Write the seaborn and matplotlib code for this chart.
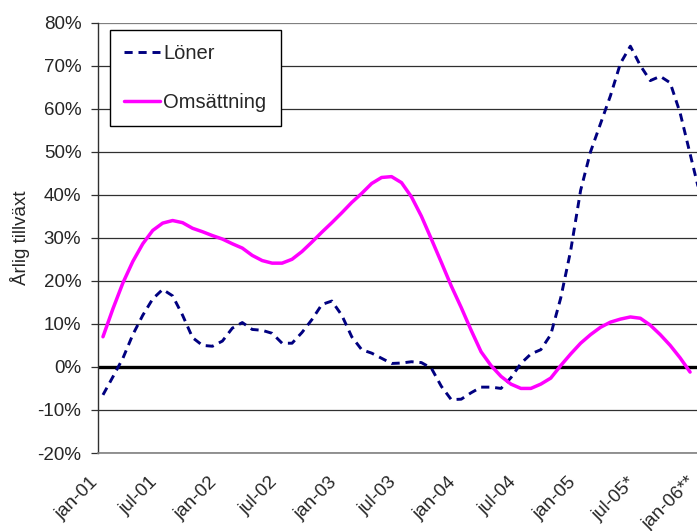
import numpy as np
import pandas as pd
import matplotlib
matplotlib.use("Agg")
import matplotlib.pyplot as plt
import matplotlib.transforms as mtrans
import seaborn as sns

# Monthly annual growth, jan-01 .. jan-06 (percent)
loner = [-6.5, -2.3, 2.0, 7.5, 12.0, 15.8, 18.0, 16.5, 12.0, 6.8,
         5.0, 4.8, 6.0, 9.0, 10.3, 8.7, 8.5, 7.8, 5.5, 5.5,
         8.0, 11.0, 14.5, 15.3, 12.0, 7.0, 4.0, 3.2, 2.0, 0.8,
         0.9, 1.2, 1.0, -0.3, -4.5, -7.6, -7.5, -6.0, -4.7, -4.7,
         -5.0, -2.5, 0.8, 3.0, 4.0, 7.5, 16.0, 27.0, 41.0, 50.0,
         56.5, 63.0, 70.5, 74.5, 70.0, 66.5, 67.5, 66.0, 59.0, 49.5,
         40.0]
omsattning = [7.0, 13.5, 19.5, 24.5, 28.6, 31.7, 33.4, 34.0, 33.5, 32.2,
              31.4, 30.5, 29.7, 28.6, 27.6, 25.9, 24.7, 24.1, 24.1, 25.0,
              26.8, 29.0, 31.3, 33.5, 35.8, 38.2, 40.3, 42.6, 44.0, 44.2,
              42.8, 39.5, 35.0, 29.7, 24.3, 18.8, 13.8, 8.5, 3.5, 0.3,
              -2.2, -4.0, -5.0, -5.0, -4.0, -2.6, 0.3, 3.0, 5.5, 7.5,
              9.2, 10.4, 11.1, 11.6, 11.3, 9.7, 7.5, 5.0, 2.1, -1.2]
tick_labels = ["jan-01", "jul-01", "jan-02", "jul-02", "jan-03", "jul-03",
               "jan-04", "jul-04", "jan-05", "jul-05*", "jan-06**"]
y_ticks = [-20, -10, 0, 10, 20, 30, 40, 50, 60, 70, 80]

df_l = pd.DataFrame({"month": np.arange(len(loner)), "value": loner})
df_o = pd.DataFrame({"month": np.arange(len(omsattning)), "value": omsattning})

sns.set_style("white")
plt.rcParams["font.family"] = ["Liberation Sans", "DejaVu Sans"]

W, H = 697, 531
fig = plt.figure(figsize=(W / 100, H / 100), dpi=100)
# plot area runs slightly past the right edge of the canvas
ax = fig.add_axes([98 / W, 1 - 453 / H, 607 / W, (453 - 22.5) / H])

ax.set_xlim(-0.5, 60.5)
ax.set_ylim(-20, 80)

for v in y_ticks:
    if v == 0:
        continue
    ax.axhline(v, color="#303030" if v != 80 else "#808080", lw=0.9, zorder=1)
ax.axhline(0, color="black", lw=2.4, zorder=2)

sns.lineplot(data=df_l, x="month", y="value", ax=ax, color="#000080",
             lw=2.1, linestyle=(0, (2.8, 2.0)), label="Löner", zorder=3)
sns.lineplot(data=df_o, x="month", y="value", ax=ax, color="#FF00FF",
             lw=2.5, label="Omsättning", zorder=4,
             solid_capstyle="round", solid_joinstyle="round")

ax.set_yticks(y_ticks)
ax.set_yticklabels([f"{v}%" for v in y_ticks], fontsize=13.5)
ax.tick_params(axis="y", direction="out", length=5, width=0.9,
               color="#303030", pad=7, left=True)

ax.set_xticks(np.arange(0, 61, 6))
ax.set_xticklabels(tick_labels, rotation=45, ha="right", fontsize=13.5)
ax.tick_params(axis="x", length=0, pad=15)
offset = mtrans.ScaledTranslation(-1 / 72, 0, fig.dpi_scale_trans)
for lbl in ax.get_xticklabels():
    lbl.set_transform(lbl.get_transform() + offset)

ax.set_xlabel("")
ax.set_ylabel("Årlig tillväxt", fontsize=13.5, labelpad=5)

for side in ("top", "right"):
    ax.spines[side].set_visible(False)
ax.spines["left"].set_color("#303030")
ax.spines["left"].set_linewidth(1.0)
ax.spines["bottom"].set_color("#808080")
ax.spines["bottom"].set_linewidth(1.2)

leg = ax.legend(loc="upper left", bbox_to_anchor=(110 / W, 1 - 30 / H),
                bbox_transform=fig.transFigure, borderaxespad=0,
                fontsize=14.5, frameon=True, fancybox=False,
                edgecolor="black", handlelength=1.8, handletextpad=0.15,
                labelspacing=1.5, borderpad=0.7)
leg.get_frame().set_linewidth(1.0)
leg.get_frame().set_alpha(1)

fig.savefig("out.png", dpi=100)
